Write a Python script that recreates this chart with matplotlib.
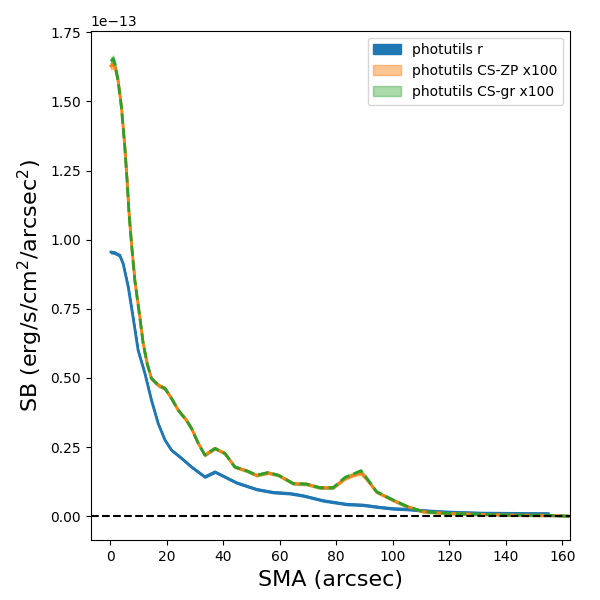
import matplotlib
matplotlib.use("Agg")
import matplotlib.pyplot as plt
import numpy as np

# photutils r profile (units of 1e-13)
sma_r = [0.3, 1.5, 3.4, 4.6, 6.4, 8.1, 9.9, 12.3, 14.6, 17.0, 19.4, 21.7, 25.3, 28.8,
         33.5, 37.1, 40.6, 44.7, 51.8, 57.7, 63.6, 68.3, 75.4, 83.7, 89.6, 95.5,
         100.2, 104.9, 110.8, 119.0, 130.9, 142.7, 155.0]
sb_r = [0.955, 0.953, 0.943, 0.913, 0.829, 0.72, 0.60, 0.516, 0.42, 0.335, 0.275, 0.239,
        0.209, 0.178, 0.142, 0.160, 0.142, 0.121, 0.097, 0.086, 0.082, 0.074, 0.056,
        0.043, 0.040, 0.032, 0.027, 0.025, 0.020, 0.015, 0.011, 0.010, 0.009]
err_r = [0.004, 0.004, 0.004, 0.004, 0.004, 0.004, 0.004, 0.003, 0.003, 0.003, 0.003, 0.003,
         0.003, 0.003, 0.003, 0.003, 0.003, 0.003, 0.003, 0.003, 0.003, 0.003, 0.003,
         0.003, 0.003, 0.003, 0.003, 0.003, 0.003, 0.003, 0.003, 0.003, 0.003]

# CS profiles x100 (units of 1e-13)
sma_cs = [0.3, 1.1, 1.7, 2.8, 4.0, 5.2, 6.0, 6.7, 7.7, 8.8, 10.5, 11.7, 13.1, 14.6, 17.0,
          19.4, 21.7, 24.1, 27.0, 28.8, 31.2, 33.5, 37.1, 40.6, 44.1, 48.3, 51.8, 55.9,
          59.5, 64.8, 69.5, 74.2, 78.9, 83.1, 86.0, 88.7, 90.8, 94.3, 100.2, 104.9, 110.8,
          119.1, 131.0, 142.7, 154.5, 162.7]
sb_zp = [1.628, 1.632, 1.625, 1.576, 1.479, 1.335, 1.214, 1.094, 0.968, 0.848, 0.72,
         0.624, 0.552, 0.498, 0.474, 0.462, 0.426, 0.383, 0.347, 0.317, 0.263, 0.221,
         0.245, 0.227, 0.178, 0.164, 0.148, 0.156, 0.148, 0.118, 0.116, 0.103, 0.103,
         0.136, 0.148, 0.156, 0.133, 0.087, 0.057, 0.035, 0.016, 0.010, 0.0065, 0.004,
         0.003, 0.0]
sb_gr = [1.645, 1.654, 1.636, 1.576, 1.479, 1.335, 1.214, 1.094, 0.968, 0.848, 0.72,
         0.624, 0.552, 0.498, 0.474, 0.462, 0.426, 0.383, 0.347, 0.317, 0.263, 0.221,
         0.245, 0.227, 0.178, 0.164, 0.148, 0.158, 0.148, 0.118, 0.116, 0.103, 0.103,
         0.140, 0.152, 0.164, 0.137, 0.088, 0.058, 0.036, 0.016, 0.010, 0.0065, 0.004,
         0.003, 0.0]
err_cs = [0.012, 0.012, 0.011, 0.010, 0.009, 0.008, 0.008, 0.007, 0.006, 0.006, 0.005,
          0.005, 0.005, 0.005, 0.005, 0.005, 0.005, 0.005, 0.005, 0.005, 0.004, 0.004,
          0.004, 0.004, 0.004, 0.004, 0.004, 0.004, 0.004, 0.004, 0.004, 0.004, 0.004,
          0.005, 0.005, 0.006, 0.005, 0.004, 0.004, 0.004, 0.003, 0.003, 0.003, 0.003,
          0.003, 0.003]

scale = 1e-13
sr = np.array(sma_r); yr = np.array(sb_r) * scale; er = np.array(err_r) * scale
sc = np.array(sma_cs); yz = np.array(sb_zp) * scale; yg = np.array(sb_gr) * scale
ec = np.array(err_cs) * scale

fig = plt.figure(figsize=(6, 6), dpi=100)
ax = fig.add_axes([0.151, 0.0995, 0.799, 0.8495])

ax.fill_between(sr, yr - er, yr + er, color='C0', alpha=1.0, label='photutils r')
ax.plot(sr, yr, color='C0', lw=2)
ax.fill_between(sc, yz - ec, yz + ec, color='C1', alpha=0.45, label='photutils CS-ZP x100')
ax.plot(sc, yz, color='C1', lw=2)
ax.fill_between(sc, yg - ec, yg + ec, color='C2', alpha=0.4, label='photutils CS-gr x100')
ax.plot(sc, yg, color='C2', lw=2, ls='--')
ax.axhline(0, color='k', ls='--', lw=1.5)

ax.set_xlim(-6.9, 162.7)
ax.set_ylim(-0.0874e-13, 1.756e-13)
ax.set_xlabel('SMA (arcsec)', fontsize=16)
ax.set_ylabel('SB (erg/s/cm$^2$/arcsec$^2$)', fontsize=16)
ax.legend(loc='upper right')

fig.savefig('out.png', dpi=100)
